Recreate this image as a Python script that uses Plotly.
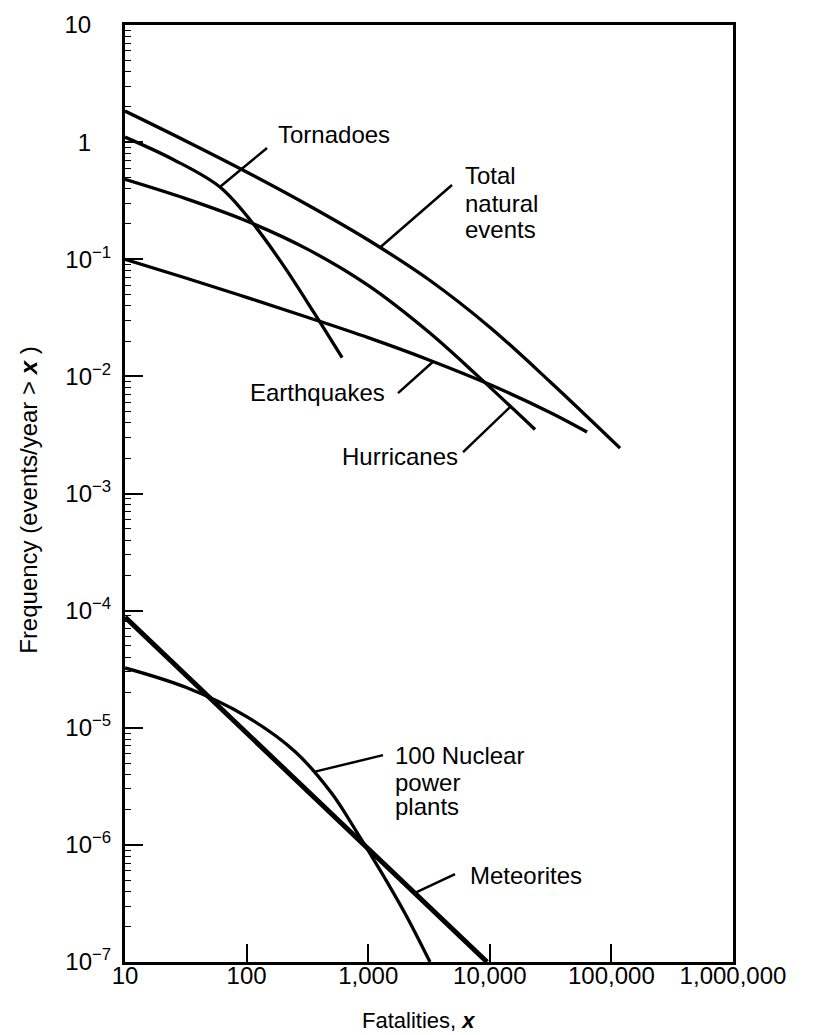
import plotly.graph_objects as go

# ---------------- data ----------------
tornado_x = [10, 25.1, 60.3, 112, 200, 355, 610]
tornado_y = [1.104, 0.708, 0.414, 0.204, 0.0891, 0.0355, 0.01445]

total_x = [10, 31.6, 100, 316, 1000, 3162, 10000, 31623, 117800]
total_y = [1.841, 1.023, 0.556, 0.292, 0.146, 0.0668, 0.0263, 0.00891, 0.00244]

hurricane_x = [10, 31.6, 100, 316, 1000, 3162, 7943, 23550]
hurricane_y = [0.481, 0.329, 0.212, 0.122, 0.0598, 0.0238, 0.0101, 0.00352]

earthquake_x = [10, 31.6, 100, 316, 1000, 3162, 10000, 31623, 63096]
earthquake_y = [0.1, 0.0692, 0.0473, 0.032, 0.0214, 0.0138, 0.00851, 0.0049, 0.00335]

meteorite_x = [10, 9500]
meteorite_y = [8.8e-5, 1.0e-7]

nuclear_x = [10, 31.6, 100, 251, 501, 794, 1259, 1995, 3221]
nuclear_y = [3.24e-5, 2.213e-5, 1.245e-5, 6.24e-6, 2.754e-6, 1.318e-6, 6.03e-7, 2.63e-7, 1.0e-7]

x_tickvals = [10, 100, 1000, 10000, 100000, 1000000]
x_ticktext = ["10", "100", "1,000", "10,000", "100,000", "1,000,000"]
y_tickvals = [10, 1, 1e-1, 1e-2, 1e-3, 1e-4, 1e-5, 1e-6, 1e-7]
y_ticktext = ["10&nbsp;&nbsp;&nbsp;", "1&nbsp;&nbsp;&nbsp;", "10<sup>−1</sup>", "10<sup>−2</sup>",
              "10<sup>−3</sup>", "10<sup>−4</sup>", "10<sup>−5</sup>", "10<sup>−6</sup>", "10<sup>−7</sup>"]

# labels: (text lines, log10 x, log10 y of each line, anchor)
labels = [
    (["Tornadoes"], 2.242, [0.061], "left"),
    (["Total", "natural", "events"], 3.78, [-0.289, -0.525, -0.748], "left"),
    (["Earthquakes"], 3.155, [-2.134], "right"),
    (["Hurricanes"], 2.768, [-2.68], "left"),
    (["100 Nuclear", "power", "plants"], 3.204, [-5.234, -5.465, -5.67], "left"),
    (["Meteorites"], 3.821, [-6.259], "left"),
]
# leader lines: (log10 x0, log10 y0, log10 x1, log10 y1)
leaders = [
    (2.168, -0.050, 1.78, -0.383),
    (3.689, -0.366, 3.097, -0.900),
    (3.245, -2.143, 3.533, -1.875),
    (3.78, -2.646, 4.166, -2.262),
    (3.122, -5.234, 2.554, -5.377),
    (3.714, -6.25, 3.385, -6.41),
]

FONT = "Liberation Sans, Arial, sans-serif"

fig = go.Figure()

series = [
    (tornado_x, tornado_y, 3.3),
    (total_x, total_y, 3.3),
    (hurricane_x, hurricane_y, 3.3),
    (earthquake_x, earthquake_y, 3.3),
    (nuclear_x, nuclear_y, 3.3),
    (meteorite_x, meteorite_y, 5),
]
for xs, ys, w in series:
    fig.add_trace(go.Scatter(x=xs, y=ys, mode="lines",
                             line=dict(color="black", width=w, shape="spline", smoothing=1.0),
                             showlegend=False, hoverinfo="skip"))

for x0, y0, x1, y1 in leaders:
    fig.add_trace(go.Scatter(x=[10 ** x0, 10 ** x1], y=[10 ** y0, 10 ** y1], mode="lines",
                             line=dict(color="black", width=2.5),
                             showlegend=False, hoverinfo="skip"))

for lines, lx, lys, anchor in labels:
    for t, ly in zip(lines, lys):
        fig.add_annotation(x=lx, y=ly, xref="x", yref="y", text=t, showarrow=False,
                           xanchor=anchor, yanchor="middle",
                           font=dict(family=FONT, size=24, color="black"))

fig.add_annotation(x=0.482, y=-0.062, xref="paper", yref="paper",
                   text="Fatalities, <b><i>x</i></b>", showarrow=False,
                   xanchor="center", yanchor="middle",
                   font=dict(family=FONT, size=22, color="black"))
fig.add_annotation(x=-0.16, y=0.493, xref="paper", yref="paper",
                   text="Frequency (events/year &gt; <b><i>x</i></b> )", showarrow=False,
                   textangle=-90, xanchor="center", yanchor="middle",
                   font=dict(family=FONT, size=24, color="black"))

minor_vals = [m * 10 ** e for e in range(-7, 1) for m in range(2, 10)]

fig.update_xaxes(type="log", range=[1, 6], tickmode="array", tickvals=x_tickvals, ticktext=x_ticktext,
                 ticks="inside", ticklen=18, tickwidth=2, tickcolor="black",
                 showline=True, linecolor="black", linewidth=3, mirror=True, automargin=False,
                 showgrid=False, zeroline=False, ticklabelstandoff=-10,
                 tickfont=dict(family=FONT, size=24, color="black"))
fig.update_yaxes(type="log", range=[-7, 1], tickmode="array", tickvals=y_tickvals, ticktext=y_ticktext,
                 ticks="inside", ticklen=18, tickwidth=2, tickcolor="black",
                 showline=True, linecolor="black", linewidth=3, mirror=True, automargin=False,
                 showgrid=False, zeroline=False, ticklabelstandoff=6,
                 minor=dict(tickmode="array", tickvals=minor_vals, ticks="inside", ticklen=6,
                            tickwidth=1.2, tickcolor="black", showgrid=False),
                 tickfont=dict(family=FONT, size=24, color="black"))

fig.update_layout(width=812, height=1027, margin=dict(l=117, r=87, t=17, b=73),
                  plot_bgcolor="white", paper_bgcolor="white", showlegend=False)

fig.write_html("out.html")
